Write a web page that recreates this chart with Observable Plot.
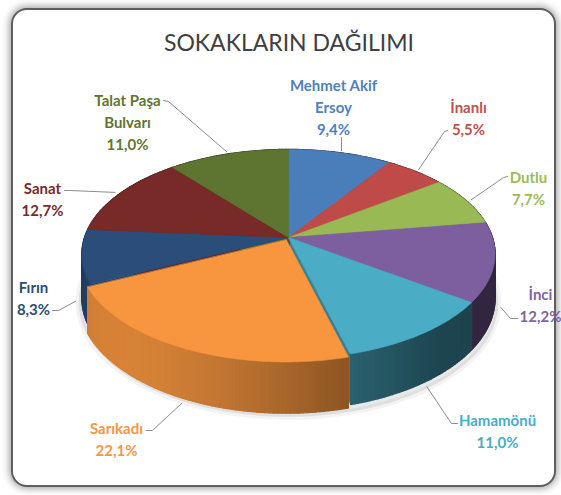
<!DOCTYPE html>
<html><head><meta charset="utf-8">
<script src="https://cdn.jsdelivr.net/npm/d3@7"></script>
<script src="https://cdn.jsdelivr.net/npm/@observablehq/plot@0.6"></script>
<style>
body{margin:0;background:#fff;}
#wrap{position:relative;width:561px;height:495px;overflow:hidden;font-family:Lato,"Open Sans",sans-serif;}
#frame{position:absolute;left:11px;top:8px;width:541px;height:475px;border:2px solid #5f5f5f;border-radius:16px;box-shadow:0 0 7px 2px rgba(0,0,0,0.35);background:#fff;}
#title{position:absolute;left:0;width:578px;top:27px;text-align:center;font-size:23px;color:#404040;line-height:30px;}
#chart{position:absolute;left:0;top:0;}
</style></head>
<body><div id="wrap"><div id="frame"></div><div id="title">SOKAKLARIN DAĞILIMI</div><div id="chart"></div></div>
<script>
// ---- data ----
const categories = ["Mehmet Akif Ersoy","İnanlı","Dutlu","İnci","Hamamönü","Sarıkadı","Fırın","Sanat","Talat Paşa Bulvarı"];
const shares = [9.4, 5.5, 7.7, 12.2, 11.0, 22.1, 8.3, 12.7, 11.0];
const percentLabels = ["9,4%","5,5%","7,7%","12,2%","11,0%","22,1%","8,3%","12,7%","11,0%"];
const nameLines = [["Mehmet Akif","Ersoy"],["İnanlı"],["Dutlu"],["İnci"],["Hamamönü"],["Sarıkadı"],["Fırın"],["Sanat"],["Talat Paşa","Bulvarı"]];
const explodedCategories = ["Sarıkadı"];

// ---- styles ----
const sliceColors = ["#4A7EBB","#BE4B48","#98B954","#7D5FA0","#4AACC5","#F7963F","#2A4D7A","#772A28","#5E7531"];
const labelColors = ["#4F81BD","#C0504D","#9BBB59","#8064A2","#4BACC6","#F79646","#2C4D75","#772C2A","#5F7530"];

// ---- layout (pixels) ----
const geom = {cx: 288, cy: 237, R: 204, a: 102, b: 0.158, h: 43, explode: 0.025};
const labelLayout = [
  {x: 333, y: 105, start: [341, 137], knee: [341, 138], drop: 0},
  {x: 468, y: 116, start: [447, 130], knee: [444, 131], drop: 0},
  {x: 528, y: 186, start: [507, 176], knee: [503, 177], drop: 0},
  {x: 540, y: 303, start: [517, 318], knee: [510, 318], drop: 1},
  {x: 497, y: 429, start: [457, 423], knee: [451, 423], drop: 1},
  {x: 116, y: 437, start: [146, 430], knee: [152, 430], drop: 1},
  {x: 33,  y: 296, start: [52, 310],  knee: [58, 310],  drop: 1},
  {x: 42,  y: 197, start: [64, 190],  knee: [70, 190],  drop: 0},
  {x: 127, y: 120, start: [163, 100], knee: [168, 101], drop: 0}
];

// ---- geometry ----
const TAU = Math.PI * 2;
const total = d3.sum(shares);
let acc = 0;
const slices = categories.map((name, i) => {
  const t0 = acc / total * TAU; acc += shares[i]; const t1 = acc / total * TAU;
  const mid = (t0 + t1) / 2;
  const e = explodedCategories.includes(name) ? geom.explode : 0;
  return {name, i, t0, t1, mid, ex: e * Math.sin(mid), ev: -e * Math.cos(mid), color: sliceColors[i]};
});
function proj(X, V, drop) {
  const d = 1 - geom.b * V;
  return [geom.cx + geom.R * X / d, geom.cy + (geom.a * V + drop) / d];
}
function pt(s, th, r, drop) { return proj(s.ex + r * Math.sin(th), s.ev - r * Math.cos(th), drop); }
function arcAngles(s) {
  const n = Math.max(2, Math.ceil((s.t1 - s.t0) / (Math.PI / 180)));
  return d3.range(n + 1).map(k => s.t0 + (s.t1 - s.t0) * k / n);
}
function scale(color, f) {
  const c = d3.rgb(color);
  return d3.rgb(c.r * f, c.g * f, c.b * f).formatHex();
}
function shade(th) {
  return 0.40 + 0.47 * Math.pow(Math.max(0, Math.cos(th - 225 * Math.PI / 180)), 1.5);
}
const rows = p => p.pts.map(([x, y]) => ({id: p.id, x, y, fill: p.fill}));

// soft shadow under the pie
const shadowRows = d3.range(0, 361, 2).map(d => {
  const th = d * Math.PI / 180;
  const [x, y] = proj(1.015 * Math.sin(th), -1.015 * Math.cos(th), geom.h + 4);
  return {id: "shadow", x, y};
});

// radial faces (visible in the gap of the exploded slice)
const radial = [];
slices.forEach(s => {
  [s.t0, s.t1].forEach((th, j) => {
    radial.push({id: `r${s.i}_${j}`, fill: scale(s.color, 0.75),
      pts: [pt(s, 0, 0, 0), pt(s, th, 1, 0), pt(s, th, 1, geom.h), pt(s, 0, 0, geom.h)]});
  });
});
// outer walls, back to front
const walls = [];
slices.forEach(s => {
  const ang = arcAngles(s);
  for (let k = 0; k < ang.length - 1; k++) {
    const a0 = ang[k], a1 = ang[k + 1], am = (a0 + a1) / 2;
    walls.push({id: `w${s.i}_${k}`, depth: -Math.cos(am) + (s.ex || s.ev ? 0.01 : 0), fill: scale(s.color, shade(am)),
      pts: [pt(s, a0, 1, 0), pt(s, a1, 1, 0), pt(s, a1, 1, geom.h), pt(s, a0, 1, geom.h)]});
  }
});
walls.sort((p, q) => p.depth - q.depth);
// top faces
const tops = slices.map(s => ({id: `t${s.i}`, fill: s.color,
  pts: [pt(s, 0, 0, 0), ...arcAngles(s).map(th => pt(s, th, 1, 0))]}));

// labels and leaders
const labelRows = slices.map(s => ({
  x: labelLayout[s.i].x, y: labelLayout[s.i].y,
  text: [...nameLines[s.i], percentLabels[s.i]].join("\n"), fill: labelColors[s.i]
}));
const leaderRows = slices.flatMap(s => {
  const L = labelLayout[s.i];
  const end = pt(s, s.mid, 1.03, L.drop * geom.h);
  return [L.start, L.knee, end].map(([x, y]) => ({id: s.name, x, y}));
});

const chart = Plot.plot({
  width: 561, height: 495, margin: 0,
  x: {domain: [0, 561], range: [0, 561], axis: null},
  y: {domain: [0, 495], range: [0, 495], axis: null},
  color: {type: "identity"},
  style: {background: "transparent", overflow: "visible"},
  marks: [
    Plot.line(shadowRows, {x: "x", y: "y", z: "id", fill: "#9a9a9a", fillOpacity: 0.22, stroke: "#9a9a9a", strokeOpacity: 0.12, strokeWidth: 6, curve: "linear-closed"}),
    Plot.line(radial.flatMap(rows), {x: "x", y: "y", z: "id", fill: "fill", stroke: "fill", strokeWidth: 0.5, curve: "linear-closed"}),
    Plot.line(walls.flatMap(rows), {x: "x", y: "y", z: "id", fill: "fill", stroke: "fill", strokeWidth: 1.3, curve: "linear-closed"}),
    Plot.line(tops.flatMap(rows), {x: "x", y: "y", z: "id", fill: "fill", stroke: "fill", strokeWidth: 0.6, curve: "linear-closed"}),
    Plot.line(leaderRows, {x: "x", y: "y", z: "id", stroke: "#8c8c8c", strokeWidth: 1}),
    Plot.text(labelRows, {x: "x", y: "y", text: "text", fill: "fill", fontSize: 15, fontWeight: "bold", lineHeight: 1.47, fontFamily: "Lato, 'Open Sans', sans-serif"})
  ]
});
document.getElementById("chart").appendChild(chart);
</script>
</body></html>
